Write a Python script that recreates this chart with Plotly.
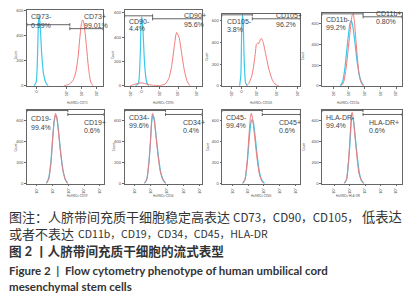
import plotly.graph_objects as go

W, H = 419, 300

# ---------------- data ----------------
markers = ["CD73", "CD90", "CD105", "CD11b", "CD19", "CD34", "CD45", "HLA-DR"]
neg_pct = ["0.99%", "4.4%", "3.8%", "99.2%", "99.4%", "99.6%", "99.4%", "99.4%"]
pos_pct = ["99.01%", "95.6%", "96.2%", "0.80%", "0.6%", "0.4%", "0.6%", "0.6%"]

# x in decades of fluorescence, y in counts
CD73_blue_x = [0.80, 0.95, 1.03, 1.10, 1.15, 1.22, 1.32, 1.45, 1.60, 1.75]
CD73_blue_y = [0, 30, 200, 500, 565, 480, 250, 90, 25, 0]
CD73_red_x = [2.80, 3.10, 3.40, 3.60, 3.75, 3.90, 4.00, 4.07, 4.15, 4.30, 4.45, 4.60, 4.75]
CD73_red_y = [0, 10, 40, 110, 230, 420, 510, 525, 490, 330, 140, 30, 0]

CD90_blue_x = [1.70, 1.85, 1.95, 2.00, 2.04, 2.10, 2.20, 2.30, 2.40]
CD90_blue_y = [0, 20, 250, 520, 567, 450, 150, 30, 0]
CD90_red_x = [1.40, 1.60, 1.85, 2.05, 2.30, 2.60, 3.00, 3.30, 3.50, 3.65, 3.80, 3.92, 4.05, 4.20, 4.35, 4.50, 4.65]
CD90_red_y = [0, 10, 22, 24, 15, 5, 3, 15, 60, 160, 330, 438, 400, 260, 120, 35, 0]

CD105_blue_x = [2.18, 2.24, 2.28, 2.32, 2.36, 2.41, 2.47, 2.55]
CD105_blue_y = [0, 100, 500, 660, 560, 200, 30, 0]
CD105_red_x = [2.50, 2.62, 2.76, 2.85, 2.95, 3.00, 3.06, 3.12, 3.20, 3.25, 3.32, 3.45, 3.60, 3.75, 3.85, 3.98, 4.10]
CD105_red_y = [0, 20, 80, 164, 300, 382, 395, 390, 430, 436, 410, 300, 164, 70, 30, 8, 0]

CD11b_blue_x = [1.45, 1.60, 1.75, 1.90, 2.05, 2.14, 2.22, 2.35, 2.50, 2.65, 2.80, 2.95]
CD11b_blue_y = [0, 40, 180, 400, 590, 630, 600, 460, 260, 110, 35, 0]
CD11b_red_x = [1.50, 1.65, 1.80, 1.95, 2.10, 2.20, 2.27, 2.35, 2.45, 2.55, 2.65, 2.75, 2.90]
CD11b_red_y = [0, 30, 150, 350, 560, 680, 697, 620, 430, 250, 110, 40, 0]

CD19_blue_x = [1.60, 1.75, 1.90, 2.00, 2.10, 2.20, 2.27, 2.38, 2.52, 2.67, 2.82, 2.97]
CD19_blue_y = [0, 50, 220, 420, 590, 648, 630, 500, 290, 120, 35, 0]
CD19_red_x = [1.60, 1.75, 1.90, 2.00, 2.10, 2.18, 2.25, 2.35, 2.50, 2.65, 2.80, 2.95]
CD19_red_y = [0, 40, 200, 420, 600, 667, 640, 520, 300, 130, 40, 0]

CD34_blue_x = [1.60, 1.75, 1.88, 1.98, 2.06, 2.12, 2.20, 2.30, 2.45, 2.60, 2.75, 2.92]
CD34_blue_y = [0, 45, 210, 420, 600, 648, 620, 480, 270, 110, 35, 0]
CD34_red_x = [1.60, 1.75, 1.88, 1.98, 2.05, 2.10, 2.16, 2.28, 2.42, 2.57, 2.72, 2.90]
CD34_red_y = [0, 40, 200, 420, 620, 667, 640, 500, 290, 120, 40, 0]

CD45_blue_x = [1.65, 1.80, 1.95, 2.07, 2.18, 2.27, 2.35, 2.47, 2.60, 2.75, 2.90, 3.05]
CD45_blue_y = [0, 35, 200, 420, 580, 610, 570, 420, 240, 90, 25, 0]
CD45_red_x = [1.65, 1.80, 1.95, 2.05, 2.15, 2.21, 2.28, 2.40, 2.55, 2.70, 2.85, 3.00]
CD45_red_y = [0, 40, 230, 450, 630, 667, 620, 470, 260, 100, 30, 0]

HLADR_blue_x = [1.65, 1.80, 1.93, 2.04, 2.12, 2.18, 2.25, 2.36, 2.50, 2.64, 2.78, 2.93]
HLADR_blue_y = [0, 35, 200, 420, 600, 629, 600, 450, 250, 95, 28, 0]
HLADR_red_x = [1.65, 1.80, 1.93, 2.03, 2.11, 2.16, 2.22, 2.33, 2.47, 2.60, 2.75, 2.90]
HLADR_red_y = [0, 40, 220, 450, 640, 676, 640, 480, 260, 100, 30, 0]

blue_x = [CD73_blue_x, CD90_blue_x, CD105_blue_x, CD11b_blue_x, CD19_blue_x, CD34_blue_x, CD45_blue_x, HLADR_blue_x]
blue_y = [CD73_blue_y, CD90_blue_y, CD105_blue_y, CD11b_blue_y, CD19_blue_y, CD34_blue_y, CD45_blue_y, HLADR_blue_y]
red_x = [CD73_red_x, CD90_red_x, CD105_red_x, CD11b_red_x, CD19_red_x, CD34_red_x, CD45_red_x, HLADR_red_x]
red_y = [CD73_red_y, CD90_red_y, CD105_red_y, CD11b_red_y, CD19_red_y, CD34_red_y, CD45_red_y, HLADR_red_y]

# gate thresholds (decades)
gate_split = [3.2, 2.62, 2.8, 2.9, 2.97, 2.9, 2.9, 2.87]

y_tick_vals = [0, 200, 400, 600]
y_tick_text = ["0", "200", "400", "600"]

x_ticks_a = [1, 3, 4, 5]
x_text_a = ["0", "10³", "10⁴", "10⁵"]
x_ticks_b = [1.43, 2.03, 3, 4, 5]
x_text_b = ["-10³", "0", "10³", "10⁴", "10⁵"]
x_ticks_c = [1.78, 2.27, 3, 4, 5]
x_text_c = ["-10³", "0", "10³", "10⁴", "10⁵"]
x_ticks_d = [1, 2, 3, 4, 5]
x_text_d = ["10¹", "10²", "10³", "10⁴", "10⁵"]

caption_texts = [
    "图注：人脐带间充质干细胞稳定高表达", "CD73，CD90，CD105，", "低表达",
    "或者不表达", "CD11b，CD19，CD34，CD45，HLA-DR",
    "<b>图 2 丨人脐带间充质干细胞的流式表型</b>",
    "<b>Figure 2 &nbsp;|&nbsp; Flow cytometry phenotype of human umbilical cord</b>",
    "<b>mesenchymal stem cells</b>",
]

# ---------------- layout config (pixels) ----------------
boxes = [(27, 103, 8, 85), (125, 202, 8, 85), (223, 301, 12, 85), (323, 403, 11, 85),
         (27, 104, 109, 184), (125, 202, 109, 184), (223, 301, 109, 184), (323, 403, 109, 184)]
x_ranges = [(0.333, 5.4), (1.11, 5.27), (1.34, 5.15), (0.30, 5.38),
            (0.37, 5.25), (0.39, 5.11), (0.37, 5.32), (0.23, 5.39)]
y_max = [604, 624, 664, 706, 704, 704, 704, 704]
x_tick_sets = [(x_ticks_a, x_text_a), (x_ticks_b, x_text_b), (x_ticks_c, x_text_c), (x_ticks_d, x_text_d),
               (x_ticks_d, x_text_d), (x_ticks_d, x_text_d), (x_ticks_d, x_text_d), (x_ticks_d, x_text_d)]
gate_px = [(23, 27), (14, 17), (13, 17), (12, 15), (110, 114), (110, 114), (110, 114), (110, 114)]
lab_neg_px = [(29, 15, 24), (127, 20, 27), (226, 20, 28), (325, 18, 26),
              (29, 118, 127), (127, 117, 125), (225, 117, 125), (325, 117, 125)]
lab_pos_px = [(82, 15, 24), (182, 14, 23), (275, 14, 23), (375, 12, 20),
              (82, 122, 130), (181, 122, 130), (278, 122, 130), (368, 122, 130)]
# caption segments: x (px), y (px), font size, font
CJK = "'Noto Sans CJK SC', sans-serif"
LAT = "Lato, 'Noto Sans CJK SC', sans-serif"
caption_pos = [(8, 218, 13, LAT), (233, 218, 11.6, CJK), (362, 218, 13.3, LAT),
               (8, 235, 13, LAT), (77, 235, 10.6, CJK),
               (8, 253, 12.6, LAT), (8, 272, 11.5, LAT), (8, 288, 11.5, LAT)]

BLUE = "#3cc8ec"
RED = "#f27878"
GRAY = "#555555"
TEXT = "#333333"


def px2paper(px, py):
    return px / W, 1 - py / H


fig = go.Figure()
layout = dict(width=W, height=H, margin=dict(l=0, r=0, t=0, b=0),
              paper_bgcolor="white", plot_bgcolor="white", showlegend=False,
              font=dict(family=LAT, color=TEXT))
shapes = []
annotations = []

for i in range(8):
    k = "" if i == 0 else str(i + 1)
    xa, ya = "x" + k, "y" + k
    l, r, t, b = boxes[i]
    tv, tt = x_tick_sets[i]
    layout["xaxis" + k] = dict(domain=[l / W, r / W], anchor=ya, range=list(x_ranges[i]),
                               showgrid=False, zeroline=False, showline=True, mirror=True,
                               linecolor="#666", linewidth=0.8, ticks="outside", ticklen=2,
                               tickwidth=0.6, tickcolor="#666", tickvals=tv, ticktext=tt,
                               tickfont=dict(size=4, color="#555"), tickangle=-90)
    layout["yaxis" + k] = dict(domain=[1 - b / H, 1 - t / H], anchor=xa, range=[0, y_max[i]],
                               showgrid=False, zeroline=False, showline=True, mirror=True,
                               linecolor="#666", linewidth=0.8, ticks="outside", ticklen=2,
                               tickwidth=0.6, tickcolor="#666", tickvals=y_tick_vals,
                               ticktext=y_tick_text, tickfont=dict(size=4, color="#555"))
    fig.add_trace(go.Scatter(x=blue_x[i], y=blue_y[i], mode="lines", xaxis=xa, yaxis=ya,
                             line=dict(color=BLUE, width=1.2, shape="spline", smoothing=0.6)))
    fig.add_trace(go.Scatter(x=red_x[i], y=red_y[i], mode="lines", xaxis=xa, yaxis=ya,
                             line=dict(color=RED, width=1.0, shape="spline", smoothing=0.6)))

    def cy(py):
        return (b - py) / (b - t) * y_max[i]
    tick = 1.6 / (b - t) * y_max[i]
    x0, x1 = x_ranges[i]
    s = gate_split[i]
    for (ga, gb), gpy in (((x0, s), gate_px[i][0]), ((s, x1), gate_px[i][1])):
        gy = cy(gpy)
        for seg in ((ga, gy, gb, gy), (ga, gy - tick, ga, gy + tick), (gb, gy - tick, gb, gy + tick)):
            shapes.append(dict(type="line", xref=xa, yref=ya, x0=seg[0], y0=seg[1], x1=seg[2], y1=seg[3],
                               line=dict(color=GRAY, width=0.9)))

    for (lx, ly1, ly2), txt1, txt2 in ((lab_neg_px[i], markers[i] + "-", neg_pct[i]),
                                       (lab_pos_px[i], markers[i] + "+", pos_pct[i])):
        for ly, txt in ((ly1, txt1), (ly2, txt2)):
            px_, py_ = px2paper(lx, ly)
            annotations.append(dict(x=px_, y=py_, xref="paper", yref="paper", text=txt,
                                    showarrow=False, xanchor="left", yanchor="middle",
                                    font=dict(size=7, color="#444", family="Liberation Sans, Arial")))

    cxp, cyp = px2paper((l + r) / 2, b + 13)
    annotations.append(dict(x=cxp, y=cyp, xref="paper", yref="paper", text="HuMSCs-" + markers[i],
                            showarrow=False, font=dict(size=3, color="#555")))
    tx, ty = px2paper(l - 15, (t + b) / 2)
    annotations.append(dict(x=tx, y=ty, xref="paper", yref="paper", text="Count", textangle=-90,
                            showarrow=False, font=dict(size=3, color="#555")))

for txt, (cx, cyy, sz, fam) in zip(caption_texts, caption_pos):
    px_, py_ = px2paper(cx, cyy)
    annotations.append(dict(x=px_, y=py_, xref="paper", yref="paper", text=txt, showarrow=False,
                            xanchor="left", yanchor="middle", borderpad=0,
                            font=dict(size=sz, color=TEXT, family=fam)))

layout["shapes"] = shapes
layout["annotations"] = annotations
fig.update_layout(**layout)
fig.write_html("out.html", config={"displayModeBar": False},
               post_script="document.body.style.margin='0px';document.body.style.overflow='hidden';")
